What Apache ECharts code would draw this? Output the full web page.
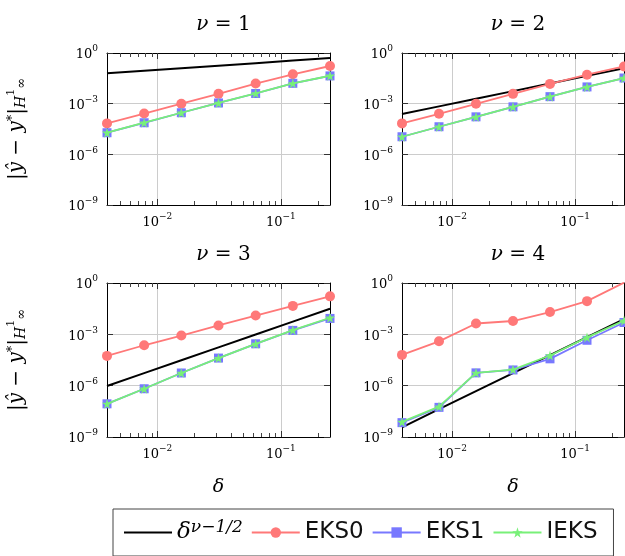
<!DOCTYPE html>
<html>
<head>
<meta charset="utf-8">
<script src="https://cdn.jsdelivr.net/npm/echarts@6/dist/echarts.min.js"></script>
<style>
html, body { margin: 0; padding: 0; background: #fff; }
#main { width: 625px; height: 556px; }
</style>
</head>
<body>
<div id="main"></div>
<script>
// step sizes delta = 2^-8 ... 2^-2
var deltas = [0.00390625, 0.0078125, 0.015625, 0.03125, 0.0625, 0.125, 0.25]
var nus = [1, 2, 3, 4]

// reference slope delta^(nu - 1/2), one row per nu
var refRate = [
	[0.0625, 0.0884, 0.125, 0.177, 0.25, 0.354, 0.5],
	[2.44e-4, 6.9e-4, 1.95e-3, 5.52e-3, 1.56e-2, 4.42e-2, 0.125],
	[9.5e-7, 5.4e-6, 3.05e-5, 1.73e-4, 9.8e-4, 5.5e-3, 3.1e-2],
	[3.7e-9, 4.2e-8, 4.8e-7, 5.4e-6, 6.1e-5, 6.9e-4, 7.8e-3]
]
var eks0 = [
	[6.8e-5, 2.6e-4, 1.0e-3, 3.8e-3, 1.55e-2, 5.5e-2, 1.7e-1],
	[6.8e-5, 2.5e-4, 9.8e-4, 3.8e-3, 1.48e-2, 5.2e-2, 1.6e-1],
	[5.5e-5, 2.3e-4, 8.5e-4, 3.3e-3, 1.25e-2, 4.6e-2, 1.66e-1],
	[6.3e-5, 3.9e-4, 4.3e-3, 6.0e-3, 2.0e-2, 8.7e-2, 1.05]
]
var eks1 = [
	[1.9e-5, 7.4e-5, 2.9e-4, 1.1e-3, 4.0e-3, 1.6e-2, 4.4e-2],
	[1.1e-5, 4.3e-5, 1.66e-4, 6.5e-4, 2.6e-3, 9.8e-3, 3.3e-2],
	[8.7e-8, 6.6e-7, 5.5e-6, 4.1e-5, 2.8e-4, 1.7e-3, 8.5e-3],
	[6.9e-9, 5.4e-8, 5.6e-6, 8.3e-6, 3.7e-5, 4.5e-4, 4.9e-3]
]
var ieks = [
	[1.9e-5, 7.5e-5, 2.9e-4, 1.1e-3, 4.1e-3, 1.6e-2, 4.5e-2],
	[1.1e-5, 4.3e-5, 1.66e-4, 6.5e-4, 2.6e-3, 9.8e-3, 3.3e-2],
	[8.7e-8, 6.6e-7, 5.5e-6, 4.1e-5, 2.8e-4, 1.75e-3, 9.3e-3],
	[7.6e-9, 6.0e-8, 5.6e-6, 8.7e-6, 5.8e-5, 6.6e-4, 6.3e-3]
]

var xTicks = [0.01, 0.1]
var xMinorTicks = [0.005, 0.006, 0.007, 0.008, 0.009, 0.02, 0.03, 0.04, 0.05, 0.06, 0.07, 0.08, 0.09, 0.2]
var yTicks = [1e-9, 1e-6, 1e-3, 1]

var refName = 'ref'
var seriesNames = [refName, 'EKS0', 'EKS1', 'IEKS']
var colors = ['#000000', '#ff7878', '#7878ff', '#78f078']
var starPath = 'path://M50,0 L61,35 L98,35 L68,57 L79,91 L50,70 L21,91 L32,57 L2,35 L39,35 Z'

var grids = [
	{left: 107, top: 53, width: 223, height: 152},
	{left: 402, top: 53, width: 222, height: 152},
	{left: 107, top: 283, width: 223, height: 154},
	{left: 402, top: 283, width: 222, height: 154}
]

var serif = 'DejaVu Serif'
var tickRich = {
	b: {fontFamily: serif, fontSize: 13, lineHeight: 10, verticalAlign: 'bottom', color: '#000'},
	s: {fontFamily: serif, fontSize: 9, lineHeight: 17, verticalAlign: 'top', color: '#000'}
}
function powLabel (v) {
	var e = Math.round(Math.log10(v))
	return '{b|10}{s|' + (e < 0 ? '\u2212' + (-e) : e) + '}'
}

var xAxes = []
var yAxes = []
var series = []
var titles = []

grids.forEach(function (g, i) {
	var base = {
		type: 'log', gridIndex: i, min: deltas[0], max: deltas[deltas.length - 1],
		axisLine: {show: true, onZero: false, lineStyle: {color: '#000', width: 1}},
		splitLine: {show: false}, axisLabel: {show: false}
	}
	// major x ticks with labels and grid
	xAxes.push(Object.assign({}, base, {
		position: 'bottom',
		axisTick: {show: true, inside: true, length: 6, customValues: xTicks, lineStyle: {color: '#333'}},
		axisLabel: {show: true, customValues: xTicks, margin: 7, formatter: powLabel, rich: tickRich},
		splitLine: {show: true, lineStyle: {color: '#cccccc', width: 1}},
		name: i >= 2 ? '\u03b4' : '',
		nameLocation: 'middle', nameGap: 41,
		nameTextStyle: {fontFamily: serif, fontStyle: 'italic', fontSize: 19, color: '#000'}
	}))
	xAxes.push(Object.assign({}, base, {
		position: 'top',
		axisTick: {show: true, inside: true, length: 6, customValues: xTicks, lineStyle: {color: '#333'}}
	}))
	// minor x ticks, bottom and top
	xAxes.push(Object.assign({}, base, {
		position: 'bottom',
		axisLine: {show: false, onZero: false},
		axisTick: {show: true, inside: true, length: 4, customValues: xMinorTicks, lineStyle: {color: '#444'}}
	}))
	xAxes.push(Object.assign({}, base, {
		position: 'top',
		axisLine: {show: false, onZero: false},
		axisTick: {show: true, inside: true, length: 4, customValues: xMinorTicks, lineStyle: {color: '#444'}}
	}))

	var yBase = {
		type: 'log', gridIndex: i, min: 1e-9, max: 1,
		axisLine: {show: true, onZero: false, lineStyle: {color: '#000', width: 1}},
		axisTick: {show: true, inside: true, length: 6, customValues: yTicks, lineStyle: {color: '#333'}}
	}
	yAxes.push(Object.assign({}, yBase, {
		position: 'left',
		axisLabel: {show: true, customValues: yTicks, margin: 9, formatter: powLabel, rich: tickRich},
		splitLine: {show: true, lineStyle: {color: '#cccccc', width: 1}},
		name: i % 2 === 0 ? '{n||}{i|\u0177}{n| \u2212 }{i|y}{p|*}{n||}{h|H}{q|1}{r|\u221e}' : '',
		nameLocation: 'middle', nameGap: 79, nameRotate: 90,
		nameTextStyle: {
			color: '#000',
			rich: {
				n: {fontFamily: serif, fontSize: 20, lineHeight: 22, verticalAlign: 'middle', color: '#000'},
				i: {fontFamily: serif, fontStyle: 'italic', fontSize: 20, lineHeight: 22, verticalAlign: 'middle', color: '#000'},
				p: {fontFamily: serif, fontSize: 13, lineHeight: 14, verticalAlign: 'top', color: '#000'},
				h: {fontFamily: serif, fontStyle: 'italic', fontSize: 14, lineHeight: 12, verticalAlign: 'bottom', color: '#000'},
				q: {fontFamily: serif, fontSize: 11, lineHeight: 20, verticalAlign: 'top', color: '#000'},
				r: {fontFamily: serif, fontSize: 13, lineHeight: 10, verticalAlign: 'bottom', color: '#000'}
			}
		}
	}))
	yAxes.push(Object.assign({}, yBase, {
		position: 'right',
		axisLabel: {show: false},
		splitLine: {show: false}
	}))

	var rows = [refRate[i], eks0[i], eks1[i], ieks[i]]
	var symbols = ['none', 'circle', 'rect', starPath]
	var sizes = [0, 10, 9, 10]
	rows.forEach(function (row, k) {
		series.push({
			name: seriesNames[k],
			type: 'line',
			xAxisIndex: i * 4,
			yAxisIndex: i * 2,
			data: deltas.map(function (d, j) { return [d, row[j]] }),
			symbol: symbols[k],
			symbolSize: sizes[k],
			showSymbol: k > 0,
			z: 2 + k,
			lineStyle: {color: colors[k], width: k === 0 ? 2 : 1.8},
			itemStyle: {color: colors[k]},
			emphasis: {disabled: true},
			animation: false
		})
	})

	titles.push({
		text: '{i|\u03bd} = ' + nus[i],
		left: g.left + g.width / 2,
		top: g.top - 43,
		textAlign: 'center',
		textStyle: {
			fontFamily: serif, fontSize: 20, fontWeight: 'normal', color: '#000',
			rich: {i: {fontFamily: serif, fontStyle: 'italic', fontSize: 20, color: '#000'}}
		}
	})
})

var chart = echarts.init(document.getElementById('main'))
chart.setOption({
	animation: false,
	backgroundColor: '#fff',
	title: titles,
	grid: grids,
	xAxis: xAxes,
	yAxis: yAxes,
	legend: {
		data: [
			{name: refName, itemStyle: {opacity: 0}},
			'EKS0', 'EKS1', 'IEKS'
		],
		left: 113,
		top: 509,
		padding: [10, 16, 12, 10],
		itemWidth: 48,
		itemHeight: 13,
		itemGap: 8,
		borderColor: '#444',
		borderWidth: 1,
		borderRadius: 0,
		selectedMode: false,
		textStyle: {
			fontFamily: 'DejaVu Sans', fontSize: 23, color: '#111',
			rich: {
				d: {fontFamily: serif, fontStyle: 'italic', fontSize: 23, lineHeight: 27, verticalAlign: 'middle', color: '#000'},
				s: {fontFamily: serif, fontStyle: 'italic', fontSize: 17, lineHeight: 12, verticalAlign: 'top', color: '#000'}
			}
		},
		formatter: function (name) {
			if (name === refName) return '{d|\u03b4}{s|\u03bd\u22121/2}'
			return name
		}
	},
	series: series
})
</script>
</body>
</html>
